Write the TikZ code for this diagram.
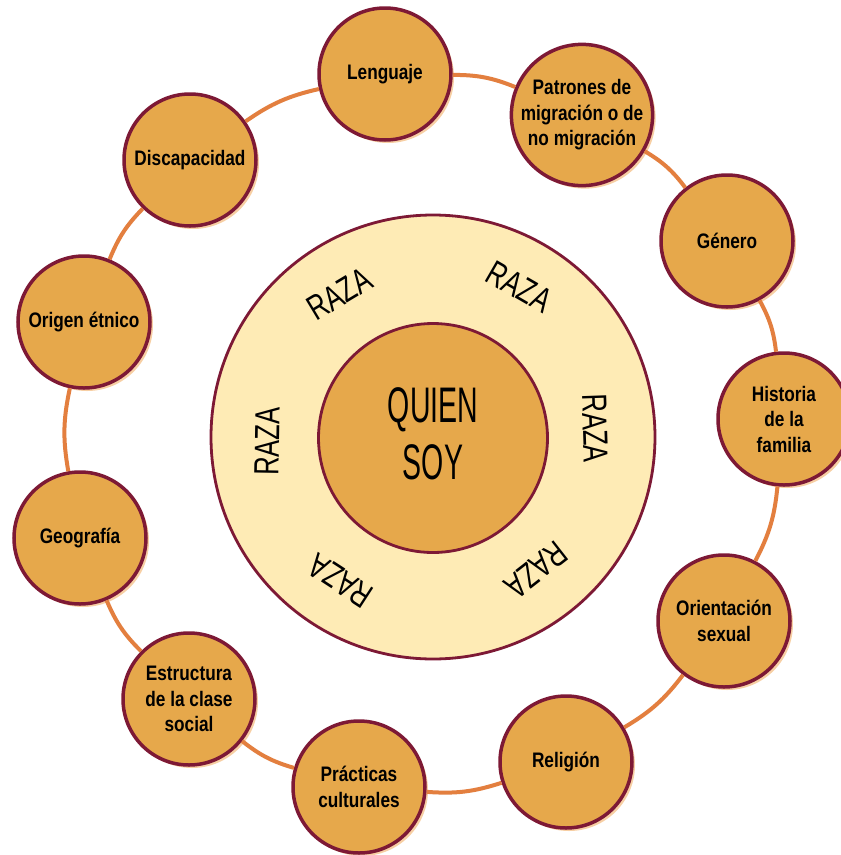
\documentclass[tikz,border=0pt]{standalone}
\usepackage{fontspec}
\setmainfont{Liberation Sans}
\newfontfamily\lblfont{Liberation Sans}[FakeStretch=0.82]
\newfontfamily\razafont{Liberation Sans}[FakeStretch=0.73]
\newfontfamily\quienfont{Liberation Sans}[FakeStretch=0.57]
\usetikzlibrary{shadows}
\definecolor{cTan}{HTML}{E6A84B}
\definecolor{cBorder}{HTML}{7D1935}
\definecolor{cCream}{HTML}{FEEBB5}
\definecolor{cRing}{HTML}{E37F3F}
\definecolor{cGlow}{HTML}{F6C48E}
\begin{document}
\begin{tikzpicture}[x=1pt,y=-1pt,
  topic/.style={circle, draw=cBorder, line width=3.5pt, fill=cTan,
    minimum size=132pt, inner sep=0pt, align=center,
    font=\lblfont\bfseries\fontsize{21}{25.5}\selectfont,
    drop shadow={shadow xshift=3pt, shadow yshift=-3pt, fill=cGlow, opacity=0.8}},
  ringline/.style={draw=cRing, line width=4pt},
  bigring/.style={circle, draw=cBorder, line width=2.8pt, inner sep=0pt},
  raza/.style={inner sep=0pt, font=\razafont\fontsize{35}{40}\selectfont},
]
\fill[white] (0,0) rectangle (841,855);
\useasboundingbox (0,0) rectangle (841,855);

% central rings
\node[bigring, fill=cCream, minimum size=444pt] (outer) at (433,437) {};
\node[bigring, fill=cTan, minimum size=229pt] (inner) at (433,438) {};
\node[inner sep=0pt, align=center, font=\quienfont\fontsize{50}{57}\selectfont] (quien) at (433,433.5) {QUIEN\\SOY};

% RAZA labels
\node[raza, rotate=31]   (r1) at (339.3,293.7) {RAZA};
\node[raza, rotate=-30]  (r2) at (519.3,286.7) {RAZA};
\node[raza, rotate=-88]  (r3) at (595.3,428.3) {RAZA};
\node[raza, rotate=-142] (r4) at (536,570) {RAZA};
\node[raza, rotate=147]  (r5) at (340.7,580.7) {RAZA};
\node[raza, rotate=89]   (r6) at (267,441.3) {RAZA};

% topic circles
\node[topic] (leng) at (385,74) {Lenguaje};
\node[topic] (patr) at (582,115) {Patrones de\\migración o de\\no migración};
\node[topic] (gen)  at (727,241) {Género};
\node[topic] (hist) at (784,419) {Historia\\de la\\familia};
\node[topic] (orie) at (724,621) {Orientación\\sexual};
\node[topic] (reli) at (566,762) {Religión};
\node[topic] (prac) at (359,787) {Prácticas\\culturales};
\node[topic] (estr) at (189,699) {Estructura\\de la clase\\social};
\node[topic] (geo)  at (80,538)  {Geografía};
\node[topic] (orig) at (84,322)  {Origen étnico};
\node[topic] (disc) at (190,160) {Discapacidad};

% outer ring connectors
\draw[ringline] (leng) to[bend left=11] (patr);
\draw[ringline] (patr) to[bend left=11] (gen);
\draw[ringline] (gen)  to[bend left=11] (hist);
\draw[ringline] (hist) to[bend left=11] (orie);
\draw[ringline] (orie) to[bend left=11] (reli);
\draw[ringline] (reli) to[bend left=11] (prac);
\draw[ringline] (prac) to[bend left=11] (estr);
\draw[ringline] (estr) to[bend left=11] (geo);
\draw[ringline] (geo)  to[bend left=11] (orig);
\draw[ringline] (orig) to[bend left=11] (disc);
\draw[ringline] (disc) to[bend left=11] (leng);
\end{tikzpicture}
\end{document}
